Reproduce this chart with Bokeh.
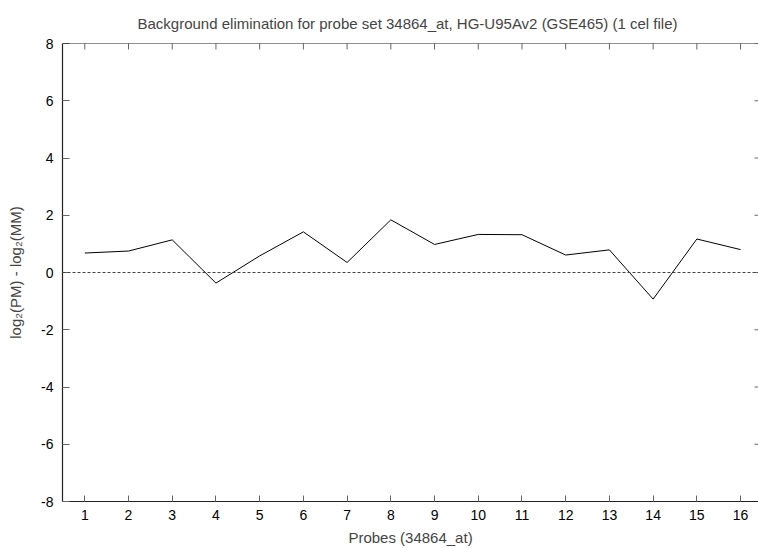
import math
from bokeh.plotting import figure
from bokeh.models import Range1d, LinearAxis, FixedTicker, Span
from bokeh.embed import file_html
from bokeh.resources import INLINE

probes = list(range(1, 17))
values = [0.68, 0.75, 1.14, -0.37, 0.58, 1.42, 0.35, 1.84,
          0.98, 1.33, 1.32, 0.61, 0.79, -0.93, 1.17, 0.80]
x_ticks = list(range(1, 17))
y_ticks = [-8, -6, -4, -2, 0, 2, 4, 6, 8]
x_label = "Probes (34864_at)"
y_label = "log\u2082(PM) - log\u2082(MM)"
title = "Background elimination for probe set 34864_at, HG-U95Av2 (GSE465) (1 cel file)"

FONT = "Liberation Sans"
TICK_FS = "14px"
LABEL_FS = "15px"

X0, X1 = 0.49, 16.41
p = figure(width=758, height=548, output_backend="svg", toolbar_location=None,
           x_range=Range1d(X0, X1), y_range=Range1d(y_ticks[0], y_ticks[-1]),
           x_axis_location=None, y_axis_location=None,
           min_border_left=62, min_border_right=0, min_border_top=43,
           min_border_bottom=47)
p.outline_line_color = None
p.grid.visible = False
p.background_fill_color = "white"
p.border_fill_color = "white"

p.title.text = title
p.title.text_font = FONT
p.title.text_font_size = LABEL_FS
p.title.text_font_style = "normal"
p.title.align = "left"
p.title.offset = 75
p.title.standoff = 23

def style(ax, ticks):
    ax.ticker = FixedTicker(ticks=ticks, minor_ticks=[])
    ax.major_label_overrides = {t: str(t) for t in ticks}
    ax.minor_tick_line_color = None
    ax.major_tick_out = 0
    ax.major_tick_line_color = "#666666"
    ax.axis_line_color = "#222222"
    ax.axis_line_width = 1.2
    ax.major_label_text_font = FONT
    ax.major_label_text_font_size = TICK_FS
    ax.major_label_text_color = "black"
    ax.axis_label_text_font = FONT
    ax.axis_label_text_font_size = LABEL_FS
    ax.axis_label_text_font_style = "normal"

xb = LinearAxis(axis_label=x_label)
style(xb, x_ticks)
xb.major_tick_in = 6
xb.major_label_standoff = 8
xb.axis_label_standoff = 6
p.add_layout(xb, "below")

yl = LinearAxis(axis_label=y_label)
style(yl, y_ticks)
yl.major_tick_in = 7
yl.major_label_standoff = 9
yl.axis_label_standoff = 14
p.add_layout(yl, "left")

# top border with inward ticks, right-side inward ticks
top = Span(location=y_ticks[-1], dimension="width", line_color="#222222",
           line_width=1.2)
p.add_layout(top)
p.scatter(x_ticks, [y_ticks[-1]] * len(x_ticks), marker="dash", angle=math.pi / 2,
          size=12, line_color="#666666", line_width=1)
p.scatter([X1] * len(y_ticks), y_ticks, marker="dash", size=8,
          line_color="#666666", line_width=1)

zero = Span(location=0, dimension="width", line_color="#444444",
            line_width=1, line_dash="3 2")
p.add_layout(zero)

p.line(probes, values, line_color="black", line_width=1)

open("out.html", "w").write(file_html(p, INLINE))
